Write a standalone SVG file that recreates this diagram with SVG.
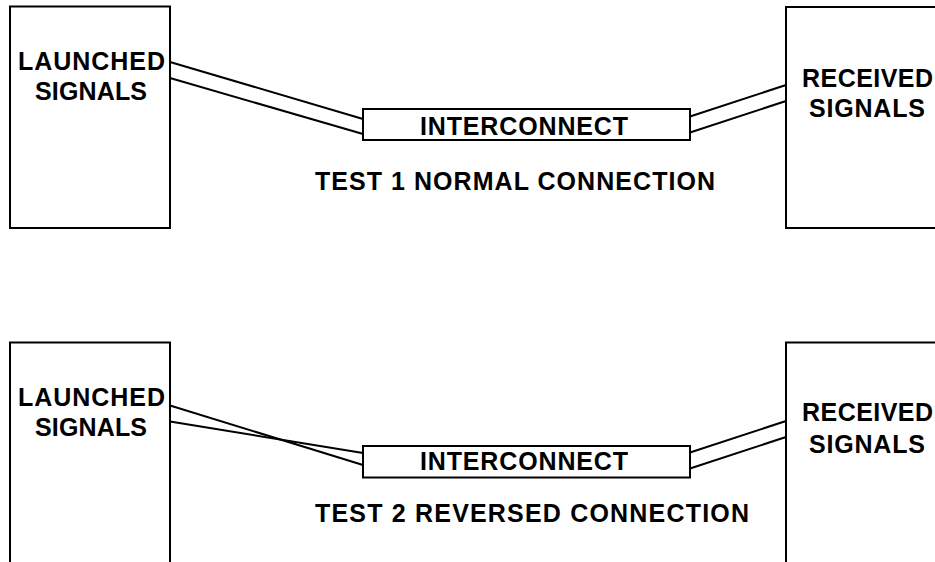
<svg xmlns="http://www.w3.org/2000/svg" width="935" height="562" viewBox="0 0 935 562">
<style>
.box{fill:#fff;stroke:#000;stroke-width:2}
.ln{fill:none;stroke:#000;stroke-width:2}
.t{font-family:"Liberation Sans",Arial,sans-serif;font-weight:bold;font-size:25px;fill:#000}
</style>
<rect width="935" height="562" fill="#fff"/>
<g id="connectors">
<line class="ln" x1="170" y1="62" x2="363" y2="119"/>
<line class="ln" x1="170" y1="78" x2="363" y2="134"/>
<line class="ln" x1="690" y1="116.5" x2="786" y2="85"/>
<line class="ln" x1="690" y1="132.5" x2="786" y2="101"/>
<line class="ln" x1="170" y1="405.5" x2="363" y2="465"/>
<line class="ln" x1="170" y1="421.5" x2="363" y2="453"/>
<line class="ln" x1="690" y1="452.5" x2="786" y2="421"/>
<line class="ln" x1="690" y1="468.5" x2="786" y2="437"/>
</g>
<g id="launched1">
<rect class="box" x="10" y="6.5" width="160" height="221.5"/>
<text class="t" x="18" y="70" textLength="147" lengthAdjust="spacing">LAUNCHED</text>
<text class="t" x="35" y="99.5" textLength="112" lengthAdjust="spacing">SIGNALS</text>
</g>
<g id="interconnect1">
<rect class="box" x="363" y="109" width="327" height="31"/>
<text class="t" x="420" y="134.5" textLength="208" lengthAdjust="spacing">INTERCONNECT</text>
</g>
<g id="received1">
<rect class="box" x="786" y="7" width="170" height="221"/>
<text class="t" x="802" y="86.5" textLength="131" lengthAdjust="spacing">RECEIVED</text>
<text class="t" x="809" y="116.5" textLength="116" lengthAdjust="spacing">SIGNALS</text>
</g>
<text id="label1" class="t" x="315" y="190" textLength="400" lengthAdjust="spacing">TEST 1 NORMAL CONNECTION</text>
<g id="launched2">
<rect class="box" x="10" y="342.5" width="160" height="240"/>
<text class="t" x="18" y="406" textLength="147" lengthAdjust="spacing">LAUNCHED</text>
<text class="t" x="35" y="436" textLength="112" lengthAdjust="spacing">SIGNALS</text>
</g>
<g id="interconnect2">
<rect class="box" x="363" y="446" width="327" height="31.5"/>
<text class="t" x="420" y="470" textLength="208" lengthAdjust="spacing">INTERCONNECT</text>
</g>
<g id="received2">
<rect class="box" x="786" y="342.5" width="170" height="240"/>
<text class="t" x="802" y="421" textLength="131" lengthAdjust="spacing">RECEIVED</text>
<text class="t" x="809" y="452.5" textLength="116" lengthAdjust="spacing">SIGNALS</text>
</g>
<text id="label2" class="t" x="315" y="522" textLength="434" lengthAdjust="spacing">TEST 2 REVERSED CONNECTION</text>
</svg>
